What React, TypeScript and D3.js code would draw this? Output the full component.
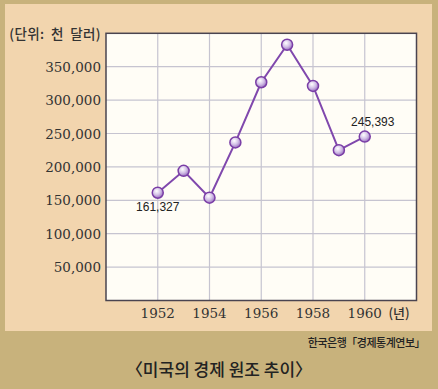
import React from "react";
import * as d3 from "d3";

const years = [1952, 1953, 1954, 1955, 1956, 1957, 1958, 1959, 1960];
const aid = [161327, 194170, 153925, 236707, 326705, 382893, 321272, 225000, 245393];
const yTicks = [50000, 100000, 150000, 200000, 250000, 300000, 350000];
const xTicks = [1952, 1954, 1956, 1958, 1960];
const labeled = [
  { year: 1952, value: 161327, pos: "below" },
  { year: 1960, value: 245393, pos: "above" },
];
const unitLabel = "(단위: 천 달러)";
const yearUnit = "(년)";
const source = "한국은행「경제통계연보」";
const title = "〈미국의 경제 원조 추이〉";

export default function App() {
  const W = 438, H = 389;
  const left = 106, right = 416.5, top = 33.3, bottom = 300.5;
  const x = d3.scaleLinear().domain([1950, 1962]).range([left, right]);
  const y = d3.scaleLinear().domain([0, 400000]).range([bottom, top]);
  const fmt = d3.format(",");
  const line = d3.line<number>().x((_, i) => x(years[i])).y((d) => y(d));
  const vGrid = d3.range(1952, 1962, 2);
  const serif = "'DejaVu Serif', 'Liberation Serif', serif";
  const sans = "'Noto Sans CJK KR', 'Noto Sans', sans-serif";

  return (
    <svg width={W} height={H} style={{ position: "absolute", left: 0, top: 0 }}>
      <defs>
        <radialGradient id="mk" cx="40%" cy="35%" r="65%">
          <stop offset="0%" stopColor="#ffffff" />
          <stop offset="55%" stopColor="#d2bfe6" />
          <stop offset="100%" stopColor="#9a70c0" />
        </radialGradient>
      </defs>
      <rect x={0} y={0} width={W} height={H} fill="#c8b27c" />
      <rect x={5} y={4} width={427} height={327} fill="#f2d5ae" />
      <rect x={left} y={top} width={right - left} height={bottom - top} fill="#fffdf6" />
      {yTicks.map((t) => (
        <line key={"h" + t} x1={left} x2={right} y1={y(t)} y2={y(t)} stroke="#c6c4d0" strokeWidth={1.2} />
      ))}
      {vGrid.map((t) => (
        <line key={"v" + t} x1={x(t)} x2={x(t)} y1={top} y2={bottom} stroke="#c6c4d0" strokeWidth={1.2} />
      ))}
      <rect x={left} y={top} width={right - left} height={bottom - top} fill="none" stroke="#4a4450" strokeWidth={1.5} />
      <path d={line(aid) || ""} fill="none" stroke="#8048ad" strokeWidth={2} />
      {aid.map((v, i) => (
        <circle key={"c" + i} cx={x(years[i])} cy={y(v)} r={5.5} fill="url(#mk)" stroke="#7a3ea6" strokeWidth={1.5} />
      ))}
      {labeled.map((l) => (
        <text
          key={"l" + l.year}
          x={x(l.year) + (l.pos === "above" ? 8 : 0)}
          y={l.pos === "above" ? y(l.value) - 11 : y(l.value) + 18}
          textAnchor="middle"
          fontFamily="'Liberation Sans', Arial, sans-serif"
          fontSize={12}
          fill="#222"
        >
          {fmt(l.value)}
        </text>
      ))}
      {yTicks.map((t) => (
        <text key={"yt" + t} x={101} y={y(t) + 5} textAnchor="end" fontFamily={serif} fontSize={13.5} fill="#333">
          {fmt(t)}
        </text>
      ))}
      <text x={101} y={y(400000) + 5.5} textAnchor="end" fontFamily={sans} fontSize={13.5} fontWeight={500} fill="#333" letterSpacing={0.4} wordSpacing={3}>
        {unitLabel}
      </text>
      {xTicks.map((t) => (
        <text key={"xt" + t} x={x(t)} y={318} textAnchor="middle" fontFamily={serif} fontSize={13.5} fill="#333">
          {t}
        </text>
      ))}
      <text x={399} y={318} textAnchor="middle" fontFamily={sans} fontSize={13} fontWeight={500} fill="#333">
        {yearUnit}
      </text>
      <text x={425} y={347} textAnchor="end" fontFamily={sans} fontSize={11} fontWeight={500} fill="#222" letterSpacing={-0.5}>
        {source}
      </text>
      <text x={219} y={376} textAnchor="middle" fontFamily={sans} fontSize={17} fontWeight={500} fill="#222">
        {title}
      </text>
    </svg>
  );
}
